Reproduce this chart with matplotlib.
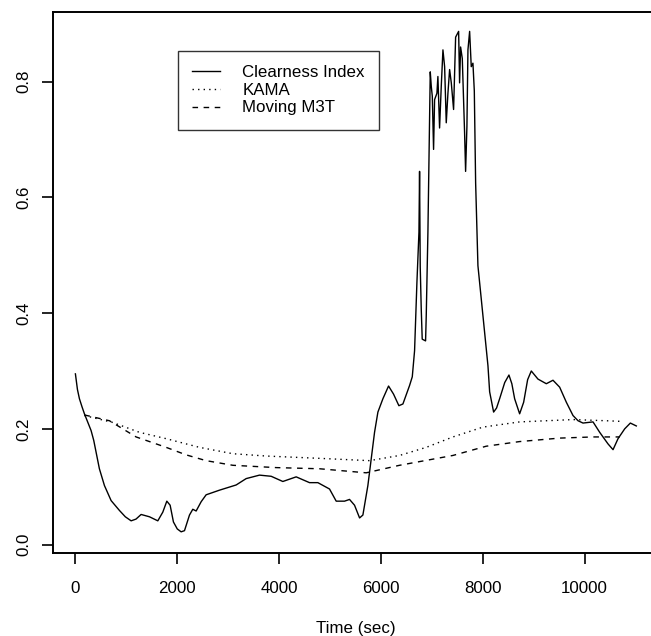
import matplotlib
matplotlib.use("Agg")
import matplotlib.pyplot as plt

plt.rcParams['font.family'] = ['Liberation Sans', 'DejaVu Sans']

# Clearness index
ci_time = [0, 40, 79, 130, 177, 240, 308, 360, 406, 471, 570, 701, 864, 980, 1094, 1190, 1290,
           1454, 1618, 1716, 1795, 1860, 1925, 2000, 2076, 2142, 2240, 2305, 2371, 2469, 2567,
           2829, 3157, 3353, 3615, 3844, 4073, 4335, 4597, 4761, 4990, 5121, 5285, 5383, 5481,
           5580, 5645, 5743, 5809, 5874, 5940, 6038, 6149, 6247, 6352, 6431, 6562, 6615,
           6660, 6706, 6746, 6758, 6771, 6791, 6810, 6876, 6889, 6922, 6941, 6955, 6968,
           6988, 7008, 7033, 7053, 7099, 7118, 7151, 7184, 7217, 7250, 7282, 7315, 7348,
           7381, 7426, 7466, 7525, 7544, 7564, 7597, 7623, 7642, 7662, 7688, 7708, 7741,
           7773, 7806, 7833, 7859, 7904, 7970, 8035, 8101, 8134, 8212, 8270, 8330, 8430,
           8513, 8570, 8625, 8723, 8802, 8880, 8952, 9083, 9247, 9378, 9509, 9640, 9771,
           9870, 9967, 10164, 10295, 10458, 10557, 10655, 10786, 10897, 11014]
ci_value = [0.295, 0.268, 0.252, 0.238, 0.226, 0.212, 0.197, 0.180, 0.160, 0.131, 0.102,
            0.076, 0.059, 0.048, 0.041, 0.044, 0.052, 0.048, 0.041, 0.056, 0.075, 0.068,
            0.039, 0.027, 0.022, 0.024, 0.051, 0.061, 0.058, 0.074, 0.086, 0.094, 0.103,
            0.114, 0.120, 0.118, 0.109, 0.117, 0.107, 0.107, 0.096, 0.075, 0.075, 0.078,
            0.068, 0.046, 0.051, 0.102, 0.148, 0.194, 0.229, 0.252, 0.274, 0.260, 0.240,
            0.243, 0.275, 0.290, 0.335, 0.453, 0.540, 0.645, 0.480, 0.407, 0.355, 0.352,
            0.395, 0.540, 0.660, 0.752, 0.817, 0.792, 0.775, 0.683, 0.769, 0.780, 0.809,
            0.720, 0.792, 0.855, 0.826, 0.729, 0.780, 0.821, 0.798, 0.752, 0.877, 0.887,
            0.798, 0.860, 0.840, 0.769, 0.712, 0.645, 0.723, 0.855, 0.887, 0.826, 0.832,
            0.784, 0.625, 0.482, 0.424, 0.367, 0.309, 0.264, 0.229, 0.236, 0.252, 0.280,
            0.293, 0.278, 0.252, 0.226, 0.246, 0.285, 0.300, 0.286, 0.278, 0.284, 0.272,
            0.246, 0.223, 0.214, 0.210, 0.212, 0.194, 0.174, 0.164, 0.183, 0.200, 0.210,
            0.205]

# KAMA
kama_time = [177, 733, 1257, 1782, 2436, 3091, 3746, 4794, 5776, 6365, 6889, 7413, 8002,
             8723, 9771, 10425, 10688]
kama_value = [0.223, 0.211, 0.194, 0.183, 0.168, 0.157, 0.153, 0.149, 0.145, 0.154, 0.168,
              0.186, 0.203, 0.212, 0.216, 0.214, 0.213]

# Moving M3T
m3t_time = [177, 668, 1192, 1782, 2175, 2567, 3091, 3943, 4794, 5710, 6365, 7413, 8068,
            8723, 9509, 10164, 10688]
m3t_value = [0.224, 0.214, 0.186, 0.168, 0.155, 0.145, 0.137, 0.133, 0.131, 0.124, 0.137,
             0.154, 0.170, 0.178, 0.184, 0.186, 0.186]

x_ticks = [0, 2000, 4000, 6000, 8000, 10000]
y_ticks = [0.0, 0.2, 0.4, 0.6, 0.8]
legend_labels = ["Clearness Index", "KAMA", "Moving M3T"]

W, H = 651, 636
fig = plt.figure(figsize=(W / 100, H / 100), dpi=100)
ax = fig.add_axes([53 / W, 1 - 553 / H, (658 - 53) / W, (553 - 11.7) / H])

ax.plot(ci_time, ci_value, color='black', lw=1.0, linestyle='-', label=legend_labels[0])
ax.plot(kama_time, kama_value, color='black', lw=1.0, linestyle=(0, (1, 3)), label=legend_labels[1])
ax.plot(m3t_time, m3t_value, color='black', lw=1.0, linestyle=(0, (4, 4)), label=legend_labels[2])

ax.set_xlim(-440, 11440)
ax.set_ylim(-0.0146, 0.921)
ax.set_xticks(x_ticks)
ax.set_xticklabels([str(v) for v in x_ticks])
ax.set_yticks(y_ticks)
ax.set_yticklabels([f"{v:.1f}" for v in y_ticks], rotation=90, va='center')

for s in ax.spines.values():
    s.set_linewidth(1.4)
ax.spines['right'].set_visible(False)
ax.tick_params(axis='both', direction='out', length=8, width=1.2, labelsize=12.2, colors='black')
ax.tick_params(axis='x', pad=12)
ax.tick_params(axis='y', pad=7.5)

ax.set_xlabel("Time (sec)", fontsize=12.2, labelpad=18)

leg = ax.legend(loc='upper left', bbox_to_anchor=(178 / W, 1 - 51 / H),
                bbox_transform=fig.transFigure, borderaxespad=0, fontsize=12.2,
                fancybox=False, frameon=True, edgecolor='black', handlelength=1.65,
                handletextpad=1.3, borderpad=0.85, labelspacing=0.15)
leg.get_frame().set_linewidth(1.0)

fig.savefig("out.png", dpi=100)
